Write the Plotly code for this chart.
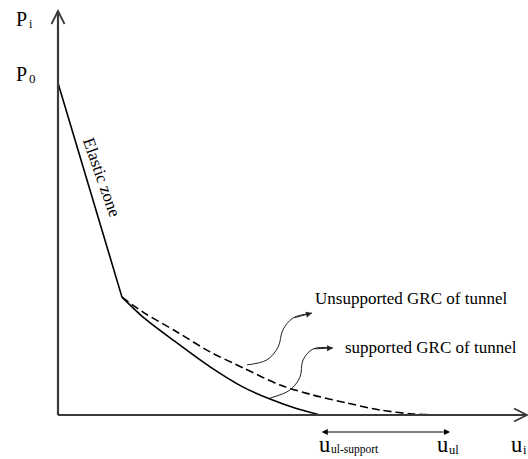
import plotly.graph_objects as go

# Ground reaction curve data (normalised: P0 = 1, u_ul = 1)
p0 = 1.0
knee_u, knee_p = 0.1645, 0.355
u_ul_support = 0.674
u_ul = 1.0

elastic_u = [0.0, knee_u]
elastic_p = [p0, knee_p]

supported_u = [knee_u, 0.2185, 0.306, 0.391, 0.476, 0.545, 0.609, u_ul_support]
supported_p = [knee_p, 0.295, 0.217, 0.145, 0.084, 0.048, 0.021, 0.0]

unsupported_u = [knee_u, 0.2185, 0.306, 0.391, 0.476, 0.571, 0.656, 0.743, 0.828, 0.913, u_ul]
unsupported_p = [knee_p, 0.310, 0.250, 0.190, 0.142, 0.090, 0.060, 0.036, 0.015, 0.003, 0.0]

# Curved pointer arrows to the curve labels
ptr1_u = [0.486, 0.537, 0.566, 0.578, 0.604, 0.653]
ptr1_p = [0.151, 0.166, 0.205, 0.256, 0.292, 0.307]
ptr2_u = [0.545, 0.596, 0.622, 0.630, 0.656, 0.707]
ptr2_p = [0.051, 0.075, 0.114, 0.166, 0.199, 0.202]

SERIF = "Liberation Serif"
AXIS_COL = "#3a3a3a"
W, H_PX = 528, 459

# drawing scale: pixels per data unit
SX, SY = 389.0, 332.0
X0_PX, Y0_PX = 58.0, 415.0


def at(px_x, px_y):
    """Pixel position on the canvas -> data coordinates."""
    return (px_x - X0_PX) / SX, (Y0_PX - px_y) / SY


fig = go.Figure()

fig.add_trace(go.Scatter(x=elastic_u, y=elastic_p, mode="lines",
                         line=dict(color="black", width=1.6), hoverinfo="skip"))
fig.add_trace(go.Scatter(x=supported_u, y=supported_p, mode="lines",
                         line=dict(color="black", width=1.6, shape="spline",
                                   smoothing=0.8),
                         hoverinfo="skip"))
fig.add_trace(go.Scatter(x=unsupported_u, y=unsupported_p, mode="lines",
                         line=dict(color="black", width=1.6, shape="spline",
                                   smoothing=0.8, dash="8px,4px"),
                         hoverinfo="skip"))
for pu, pp in ((ptr1_u, ptr1_p), (ptr2_u, ptr2_p)):
    fig.add_trace(go.Scatter(x=pu, y=pp, mode="lines",
                             line=dict(color="#222222", width=1, shape="spline"),
                             hoverinfo="skip"))

# Axes: plain lines with open chevron heads
x_tip = at(527, 415)
y_tip = at(58, 11)
L, H = 13.0, 6.5  # chevron length / half-width in px
shapes = [
    dict(type="line", xref="x", yref="y", x0=0, y0=0, x1=x_tip[0], y1=0,
         line=dict(color=AXIS_COL, width=2.2)),
    dict(type="line", xref="x", yref="y", x0=0, y0=0, x1=0, y1=y_tip[1],
         line=dict(color=AXIS_COL, width=2.2)),
    dict(type="path", xref="x", yref="y",
         path=(f"M{x_tip[0] - L / SX},{H / SY} L{x_tip[0]},0 "
               f"L{x_tip[0] - L / SX},{-H / SY}"),
         line=dict(color=AXIS_COL, width=1.8)),
    dict(type="path", xref="x", yref="y",
         path=(f"M{-H / SX},{y_tip[1] - L / SY} L0,{y_tip[1]} "
               f"L{H / SX},{y_tip[1] - L / SY}"),
         line=dict(color=AXIS_COL, width=1.8)),
]

ann = []
# Pointer arrowheads
for pu, pp in ((ptr1_u, ptr1_p), (ptr2_u, ptr2_p)):
    ann.append(dict(x=pu[-1], y=pp[-1], ax=pu[-2], ay=pp[-2], xref="x", yref="y",
                    axref="x", ayref="y", showarrow=True, arrowhead=2,
                    arrowsize=1.2, arrowwidth=1, arrowcolor="#222222", text=""))
# Double-headed span arrow between the two ultimate displacements
span_y = at(0, 432)[1]
ann.append(dict(x=u_ul + 0.008, y=span_y, ax=u_ul_support, ay=span_y, xref="x", yref="y",
                axref="x", ayref="y", showarrow=True, arrowhead=2, startarrowhead=2,
                arrowside="end+start", arrowsize=1.1, arrowwidth=1.1,
                arrowcolor="black", text=""))


def label(text, left_px, base_px, size):
    """Place text with its left edge and baseline at the given pixel spot."""
    bottom_px = base_px + 0.216 * size + 1
    ann.append(dict(x=(left_px - 1) / W, y=1 - bottom_px / H_PX,
                    xref="paper", yref="paper", text=text, showarrow=False,
                    xanchor="left", yanchor="bottom",
                    font=dict(family=SERIF, size=size, color="black")))


label("P", 15, 27, 20)
label("i", 28, 29, 12)
label("P", 15, 82, 20)
label("0", 28, 84, 13)
label("u", 318, 453, 22.5)
label("ul-support", 330, 455, 11.5)
label("u", 436, 453, 22.5)
label("ul", 448, 455, 12.5)
label("u", 510, 453, 22.5)
label("i", 522, 455, 12.5)

ex, ey = at(102, 177)
ann.append(dict(x=ex, y=ey, xref="x", yref="y", text="Elastic zone", showarrow=False,
                xanchor="center", yanchor="middle", textangle=70.5,
                font=dict(family=SERIF, size=17, color="black")))

for text, lx, cy in (("Unsupported GRC of tunnel", 313, 298),
                     ("supported GRC of tunnel", 343, 347)):
    x, y = at(lx, cy)
    ann.append(dict(x=x, y=y, xref="x", yref="y", text=text, showarrow=False,
                    xanchor="left", yanchor="middle",
                    font=dict(family=SERIF, size=17, color="black")))

fig.update_layout(
    width=W, height=H_PX,
    margin=dict(l=0, r=0, t=0, b=0),
    paper_bgcolor="white", plot_bgcolor="white",
    showlegend=False,
    xaxis=dict(range=[-X0_PX / SX, (W - X0_PX) / SX], visible=False, fixedrange=True),
    yaxis=dict(range=[(Y0_PX - H_PX) / SY, Y0_PX / SY], visible=False, fixedrange=True),
    annotations=ann,
    shapes=shapes,
)

fig.write_html("out.html")
